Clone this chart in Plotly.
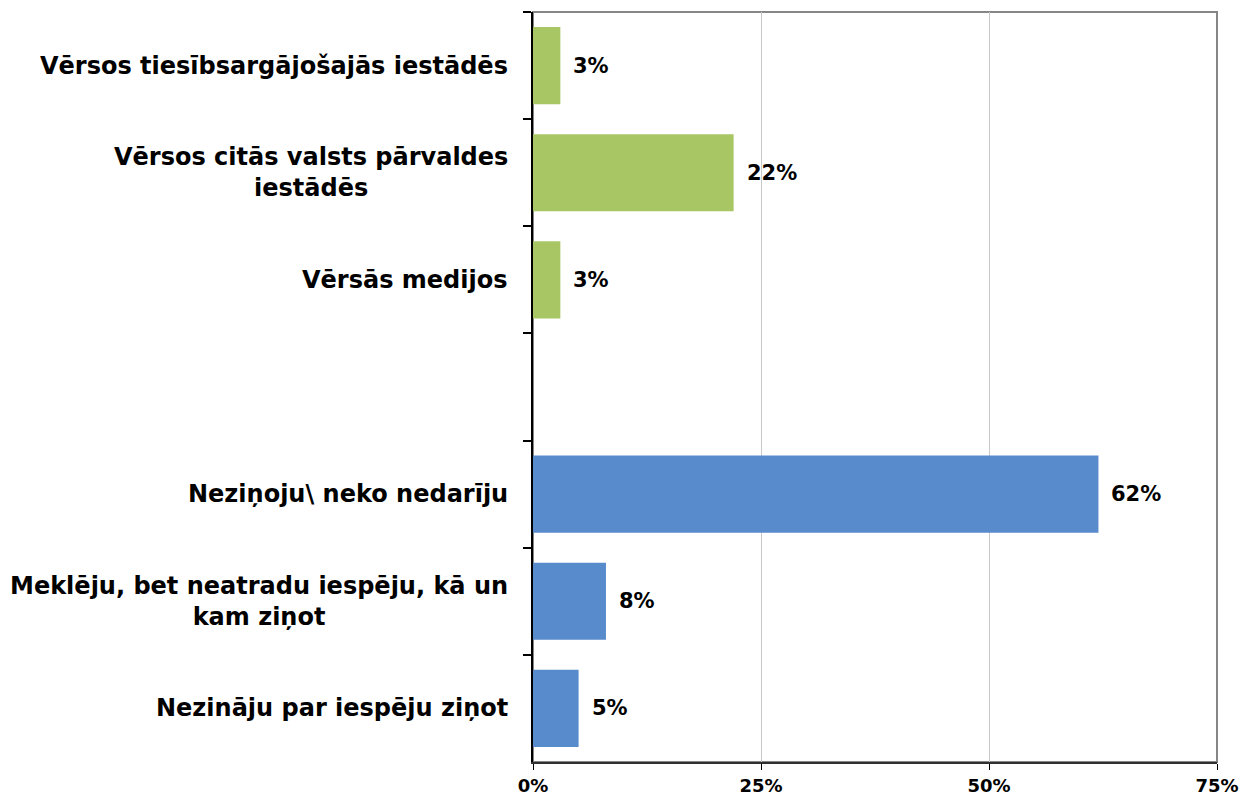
import plotly.graph_objects as go

# Survey answers, top to bottom (blank slot separates the two groups)
categories = [
    "Vērsos tiesībsargājošajās iestādēs",
    "Vērsos citās valsts pārvaldes<br>iestādēs",
    "Vērsās medijos",
    " ",
    "Neziņoju\\ neko nedarīju",
    "Meklēju, bet neatradu iespēju, kā un<br>kam ziņot",
    "Nezināju par iespēju ziņot",
]
values = [3, 22, 3, None, 62, 8, 5]
groups = ["reported", "reported", "reported", None, "silent", "silent", "silent"]

x_ticks = [0, 25, 50, 75]
x_tick_labels = ["0%", "25%", "50%", "75%"]

group_colors = {"reported": "#A8C764", "silent": "#578BCB", None: "rgba(0,0,0,0)"}
bar_colors = [group_colors[g] for g in groups]

FONT = "DejaVu Sans, Verdana, sans-serif"

fig = go.Figure(
    go.Bar(
        x=values,
        y=categories,
        orientation="h",
        marker=dict(color=bar_colors, line=dict(width=0)),
        width=0.72,
        hoverinfo="skip",
    )
)

# value labels to the right of each bar
for cat, val in zip(categories, values):
    if val is None:
        continue
    fig.add_annotation(
        x=val, y=cat, xref="x", yref="y",
        text=f"<b>{val}%</b>", showarrow=False,
        xanchor="left", xshift=11,
        font=dict(family=FONT, size=21, color="#000000"),
    )

# category names, centred line by line, to the left of the axis
for cat in categories:
    if not cat.strip():
        continue
    fig.add_annotation(
        x=0, y=cat, xref="paper", yref="y",
        text="<br>".join(f"<b>{line}</b>" for line in cat.split("<br>")),
        showarrow=False, xanchor="right", xshift=-23, align="center",
        font=dict(family=FONT, size=24, color="#000000"),
    )

# thin grey frame around the plotting area
fig.add_shape(
    type="rect", xref="paper", yref="paper", x0=0, y0=0, x1=1, y1=1,
    line=dict(color="#868686", width=2), layer="below",
)

fig.update_layout(
    width=1250, height=796,
    margin=dict(l=533, r=33, t=12, b=34, autoexpand=False),
    paper_bgcolor="white", plot_bgcolor="white",
    showlegend=False,
    bargap=0.28,
    font=dict(family=FONT, color="#000000"),
)

fig.update_xaxes(
    range=[0, 75],
    tickmode="array", tickvals=x_ticks, ticktext=[f"<b>{t}</b>" for t in x_tick_labels],
    tickfont=dict(family=FONT, size=18, color="#000000"),
    ticks="outside", ticklen=6, tickcolor="#000000", tickwidth=1,
    showgrid=True, gridcolor="#C8C8C8", gridwidth=1,
    showline=True, linecolor="#303030", linewidth=2,
    zeroline=False, fixedrange=True, automargin=False,
)

fig.update_yaxes(
    type="category",
    categoryorder="array", categoryarray=categories,
    autorange="reversed",
    showticklabels=False,
    ticks="outside", tickson="boundaries", ticklen=8, tickcolor="#000000", tickwidth=2,
    showgrid=False,
    showline=True, linecolor="#000000", linewidth=2,
    fixedrange=True, automargin=False,
)

fig.write_html("out.html")
